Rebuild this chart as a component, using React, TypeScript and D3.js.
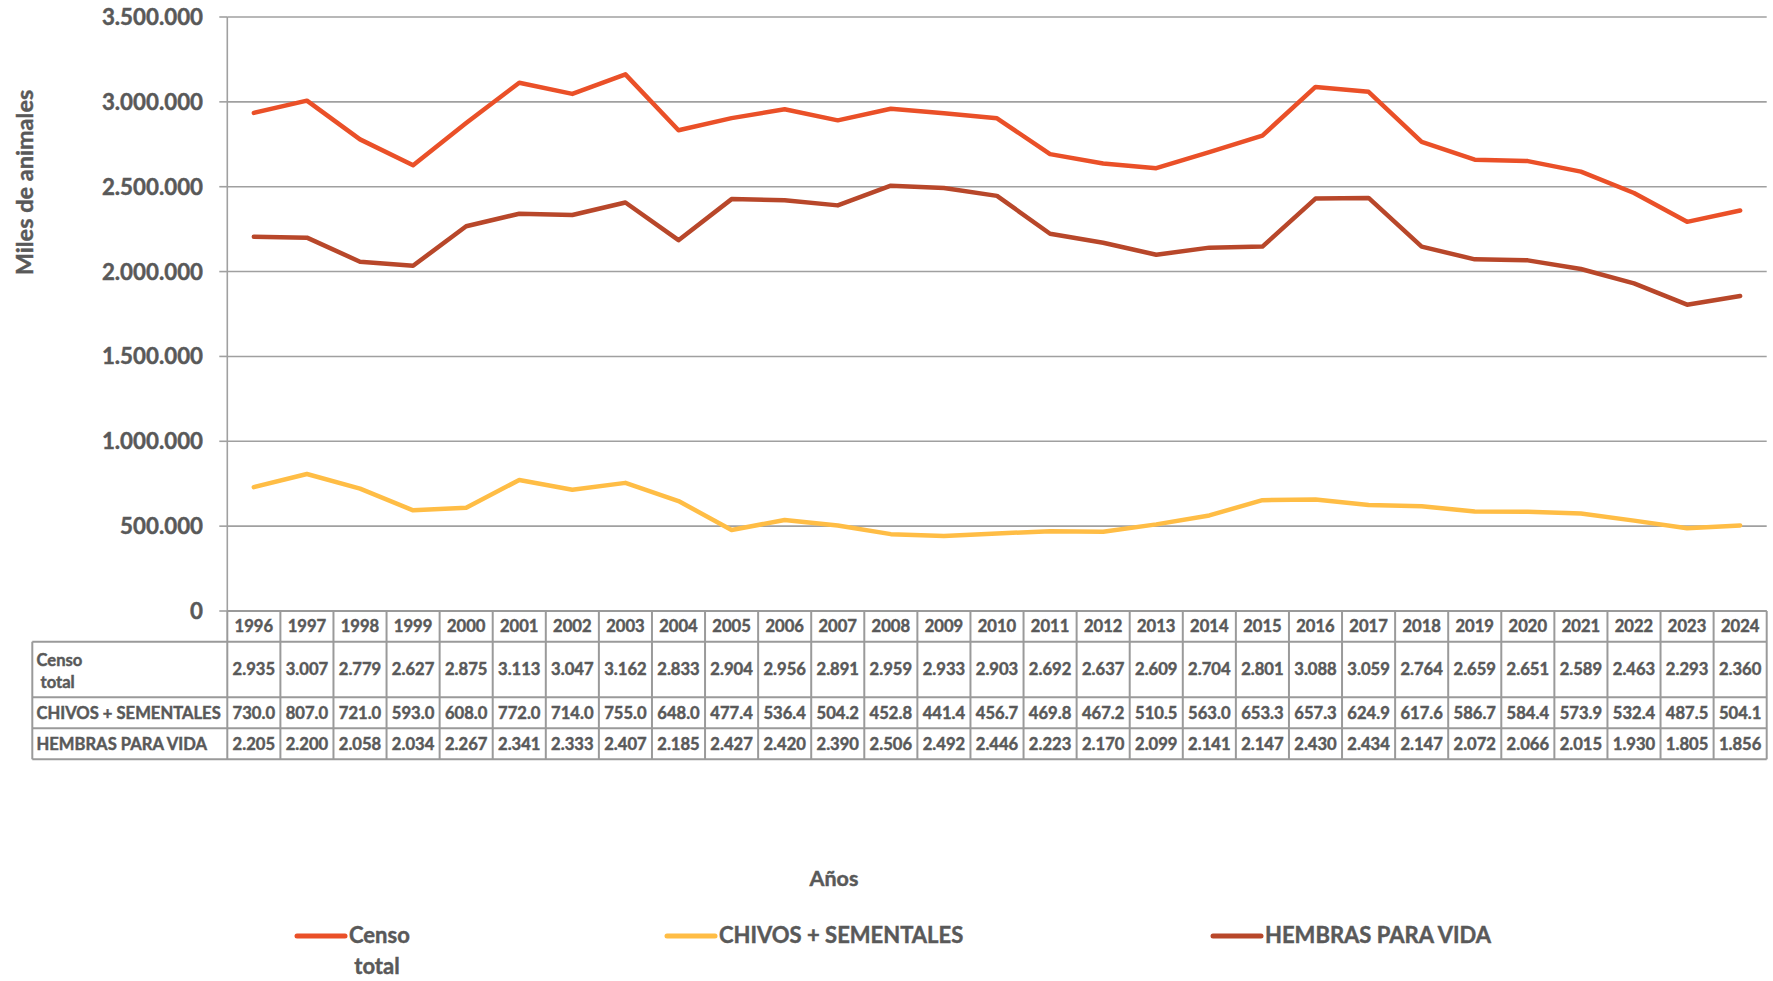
import React from "react";
import * as d3 from "d3";

const years = [1996,1997,1998,1999,2000,2001,2002,2003,2004,2005,2006,2007,2008,2009,2010,2011,2012,2013,2014,2015,2016,2017,2018,2019,2020,2021,2022,2023,2024];
// values in thousands of animals
const censoTotal = [2935,3007,2779,2627,2875,3113,3047,3162,2833,2904,2956,2891,2959,2933,2903,2692,2637,2609,2704,2801,3088,3059,2764,2659,2651,2589,2463,2293,2360];
const chivosSementales = [730.0,807.0,721.0,593.0,608.0,772.0,714.0,755.0,648.0,477.4,536.4,504.2,452.8,441.4,456.7,469.8,467.2,510.5,563.0,653.3,657.3,624.9,617.6,586.7,584.4,573.9,532.4,487.5,504.1];
const hembrasVida = [2205,2200,2058,2034,2267,2341,2333,2407,2185,2427,2420,2390,2506,2492,2446,2223,2170,2099,2141,2147,2430,2434,2147,2072,2066,2015,1930,1805,1856];
const yTicks = [0,500000,1000000,1500000,2000000,2500000,3000000,3500000];

const seriesNames = ["Censo total", "CHIVOS + SEMENTALES", "HEMBRAS PARA VIDA"];
const colors = ["#EA5028", "#FFBD45", "#B8472A"];

const W = 1773, H = 981;
const left = 227.3, right = 1766.7, top = 17, bottom = 611;
const labelLeft = 32.3;
const rowYs = [611, 641.7, 697.3, 728.3, 759.3];
const textColor = "#595959";
const font = "Lato, 'Noto Sans', sans-serif";

const locale = d3.formatLocale({ decimal: ",", thousands: ".", grouping: [3], currency: ["", ""] });
const fmtTick = locale.format(",d");

export default function App() {
  const x = d3.scaleBand<number>().domain(years).range([left, right]);
  const y = d3.scaleLinear().domain([0, 3500000]).range([bottom, top]);
  const cx = (yr: number) => (x(yr) as number) + x.bandwidth() / 2;
  const series = [censoTotal, chivosSementales, hembrasVida];
  const line = d3.line<number>().x((_, i) => cx(years[i])).y((v) => y(v * 1000));

  const tableRows = [
    { label: ["Censo", "\u00A0total"], values: censoTotal.map((v) => (v / 1000).toFixed(3)) },
    { label: ["CHIVOS + SEMENTALES"], values: chivosSementales.map((v) => v.toFixed(1)) },
    { label: ["HEMBRAS PARA VIDA"], values: hembrasVida.map((v) => (v / 1000).toFixed(3)) },
  ];
  const border = "#9A9A9A";
  const tStroke = { stroke: textColor, strokeWidth: 0.45 };
  const tf = 16.6;

  const legendItems = [
    { x: 297, label: ["Censo", "\u00A0total"] },
    { x: 667, label: ["CHIVOS + SEMENTALES"] },
    { x: 1213, label: ["HEMBRAS PARA VIDA"] },
  ];

  return (
    <svg width={W} height={H} style={{ position: "absolute", left: 0, top: 0, background: "#fff" }} fontFamily={font}>
      {/* gridlines */}
      {yTicks.map((t) => (
        <g key={t}>
          <line x1={left} x2={right} y1={y(t)} y2={y(t)} stroke="#A0A0A0" strokeWidth={1.6} />
          <line x1={left - 8} x2={left} y1={y(t)} y2={y(t)} stroke="#A0A0A0" strokeWidth={1.6} />
          <text x={203} y={y(t)} dy="0.36em" textAnchor="end" fontSize={22.3} fontWeight={700} fill={textColor} {...tStroke}>
            {fmtTick(t)}
          </text>
        </g>
      ))}
      <line x1={left} x2={left} y1={top} y2={bottom} stroke="#A0A0A0" strokeWidth={1.6} />

      {/* y axis title */}
      <text transform={`translate(25,${(88 + 277) / 2}) rotate(-90)`} textAnchor="middle" dy="0.35em" fontSize={23.5} fontWeight={700} fill={textColor} {...tStroke}>
        Miles de animales
      </text>

      {/* lines */}
      {series.map((s, i) => (
        <path key={i} d={line(s) || ""} fill="none" stroke={colors[i]} strokeWidth={4.5} strokeLinejoin="round" strokeLinecap="round" />
      ))}

      {/* data table */}
      <g>
        <line x1={left} x2={right} y1={rowYs[0]} y2={rowYs[0]} stroke={border} strokeWidth={2} />
        {rowYs.slice(1).map((ry, i) => (
          <line key={i} x1={labelLeft} x2={right} y1={ry} y2={ry} stroke={border} strokeWidth={2} />
        ))}
        <line x1={labelLeft} x2={labelLeft} y1={rowYs[1]} y2={rowYs[4]} stroke={border} strokeWidth={2} />
        {years.map((yr) => (
          <line key={yr} x1={x(yr) as number} x2={x(yr) as number} y1={rowYs[0]} y2={rowYs[4]} stroke={border} strokeWidth={2} />
        ))}
        <line x1={right} x2={right} y1={rowYs[0]} y2={rowYs[4]} stroke={border} strokeWidth={2} />
        {years.map((yr) => (
          <text key={yr} x={cx(yr)} y={(rowYs[0] + rowYs[1]) / 2} dy="0.36em" textAnchor="middle" fontSize={tf} fontWeight={700} fill={textColor} {...tStroke}>
            {yr}
          </text>
        ))}
        {tableRows.map((row, ri) => {
          const y0 = rowYs[ri + 1], y1 = rowYs[ri + 2];
          const mid = (y0 + y1) / 2;
          return (
            <g key={ri}>
              {row.label.length === 2 ? (
                <text x={36.5} fontSize={tf} fontWeight={700} fill={textColor} {...tStroke}>
                  <tspan x={36.5} y={mid - 9} dy="0.36em">{row.label[0]}</tspan>
                  <tspan x={36.5} y={mid + 13} dy="0.36em">{row.label[1]}</tspan>
                </text>
              ) : (
                <text x={36.5} y={mid} dy="0.36em" fontSize={tf} fontWeight={700} fill={textColor} {...tStroke}>
                  {row.label[0]}
                </text>
              )}
              {row.values.map((v, i) => (
                <text key={i} x={cx(years[i])} y={mid} dy="0.36em" textAnchor="middle" fontSize={tf} fontWeight={700} fill={textColor} {...tStroke}>
                  {v}
                </text>
              ))}
            </g>
          );
        })}
      </g>

      {/* x axis title */}
      <text x={834} y={886} textAnchor="middle" fontSize={21.5} fontWeight={700} fill={textColor} {...tStroke}>
        Años
      </text>

      {/* legend */}
      {legendItems.map((it, i) => (
        <g key={i}>
          <line x1={it.x} x2={it.x + 48} y1={936} y2={936} stroke={colors[i]} strokeWidth={5} strokeLinecap="round" />
          <text fontSize={22} fontWeight={700} fill={textColor} {...tStroke}>
            <tspan x={it.x + 52} y={943}>{it.label[0]}</tspan>
            {it.label[1] && <tspan x={it.x + 52} y={974}>{it.label[1]}</tspan>}
          </text>
        </g>
      ))}
    </svg>
  );
}
